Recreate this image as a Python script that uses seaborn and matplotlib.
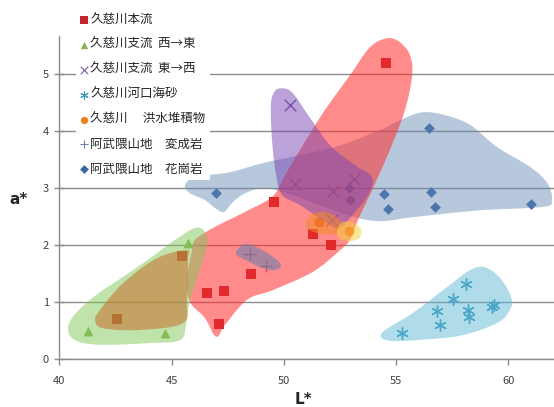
import numpy as np
import pandas as pd
import matplotlib
matplotlib.use("Agg")
import matplotlib.pyplot as plt
import seaborn as sns

# ---------------- data (L*, a*) ----------------
main_L = [54.55, 49.56, 51.31, 52.08, 48.52, 46.56, 47.32, 47.11, 42.55, 45.46]
main_a = [5.19, 2.75, 2.20, 2.00, 1.50, 1.16, 1.20, 0.61, 0.70, 1.80]

we_L = [41.26, 44.70, 45.71]
we_a = [0.50, 0.46, 2.04]

ew_L = [50.27, 50.49, 52.20, 53.12, 52.13]
ew_a = [4.45, 3.07, 2.95, 3.16, 2.44]

sand_L = [55.26, 58.11, 57.52, 56.83, 56.95, 58.21, 58.26, 59.26, 59.37]
sand_a = [0.45, 1.31, 1.05, 0.85, 0.60, 0.86, 0.74, 0.92, 0.95]

flood_L = [51.58, 52.89]
flood_a = [2.41, 2.25]

meta_L = [48.49, 49.20]
meta_a = [1.85, 1.63]

gran_L = [46.96, 52.90, 52.94, 54.46, 54.65, 56.46, 56.55, 56.73, 61.00]
gran_a = [2.92, 3.00, 2.79, 2.89, 2.63, 4.05, 2.93, 2.67, 2.72]

labels = ["久慈川本流", "久慈川支流  西→東", "久慈川支流  東→西", "久慈川河口海砂",
          "久慈川　 洪水堆積物", "阿武隈山地　変成岩", "阿武隈山地　花崗岩"]

x_ticks = [40, 45, 50, 55, 60]
y_ticks = [0, 1, 2, 3, 4, 5]

# ---------------- group outlines (L*, a*) ----------------
blob_gran_L = [45.59, 46.04, 47.60, 49.07, 50.72, 52.50, 54.28, 55.17, 56.15, 57.18, 58.29, 59.50,
               60.97, 61.73, 61.94, 61.54, 58.73, 55.75, 54.28, 52.94, 51.60, 50.27, 49.16, 48.27,
               47.69, 47.33, 46.93, 46.48, 45.82]
blob_gran_a = [3.04, 3.19, 3.28, 3.44, 3.58, 3.75, 4.02, 4.19, 4.33, 4.28, 4.11, 3.72,
               3.37, 3.09, 2.79, 2.67, 2.61, 2.49, 2.42, 2.51, 2.70, 2.89, 3.00, 2.91,
               2.74, 2.58, 2.65, 2.79, 2.91]

blob_main_L = [54.59, 55.17, 55.62, 55.71, 55.39, 54.72, 53.92, 53.30, 52.94, 52.50, 51.29, 49.51,
               48.36, 47.38, 46.98, 46.48, 45.82, 45.68, 45.91, 46.04, 46.84, 48.36, 49.51, 50.05,
               50.72, 51.74, 52.94, 53.83]
blob_main_a = [5.63, 5.56, 5.33, 4.98, 4.37, 3.67, 2.96, 2.44, 2.09, 1.91, 1.53, 1.21,
               1.04, 0.60, 0.39, 0.72, 1.00, 1.39, 1.91, 2.09, 2.30, 2.60, 2.86, 3.23,
               3.67, 4.32, 4.98, 5.47]

blob_ew_L = [49.83, 50.36, 51.17, 52.06, 53.17, 53.93, 53.75, 53.17, 52.50, 52.06, 50.72, 49.92,
             49.65, 49.47, 49.42, 49.56]
blob_ew_a = [4.75, 4.68, 4.23, 3.75, 3.40, 3.19, 2.88, 2.58, 2.30, 2.35, 2.70, 2.88,
             3.23, 3.84, 4.46, 4.68]

blob_meta_L = [47.91, 48.27, 48.85, 49.60, 49.87, 49.56, 49.02, 48.27, 47.91]
blob_meta_a = [1.91, 2.02, 1.95, 1.77, 1.63, 1.56, 1.60, 1.74, 1.82]

blob_flood_L = [50.98, 51.25, 51.83, 52.41, 52.59, 52.19, 51.52, 51.07]
blob_flood_a = [2.40, 2.54, 2.58, 2.47, 2.30, 2.19, 2.21, 2.28]

blob_yellow_L = [52.37, 52.59, 53.03, 53.43, 53.35, 52.90, 52.46]
blob_yellow_a = [2.26, 2.40, 2.40, 2.28, 2.12, 2.07, 2.12]

blob_we_L = [46.49, 46.04, 45.15, 44.04, 42.83, 41.59, 40.70, 40.38, 40.70, 41.81, 44.04, 45.37,
             45.64, 45.82, 46.26, 46.57]
blob_we_a = [2.23, 2.30, 2.09, 1.77, 1.44, 1.11, 0.79, 0.54, 0.33, 0.25, 0.28, 0.33,
             0.60, 1.04, 1.56, 2.00]

blob_brown_L = [45.68, 44.35, 42.83, 41.81, 41.59, 41.95, 43.59, 45.50, 45.68, 45.73]
blob_brown_a = [1.91, 1.77, 1.33, 0.86, 0.68, 0.54, 0.51, 0.63, 1.04, 1.74]

blob_sand_L = [54.37, 55.75, 57.26, 58.29, 58.96, 59.63, 60.12, 60.07, 59.49, 57.98, 56.51, 54.73]
blob_sand_a = [0.46, 0.81, 1.26, 1.56, 1.61, 1.42, 1.09, 0.86, 0.63, 0.42, 0.35, 0.32]


def smooth_closed(xs, ys, n=24):
    P = np.column_stack([xs, ys]).astype(float)
    N = len(P)
    t = np.linspace(0, 1, n, endpoint=False)[:, None]
    out = []
    for i in range(N):
        p0, p1, p2, p3 = P[i - 1], P[i], P[(i + 1) % N], P[(i + 2) % N]
        seg = 0.5 * ((2 * p1) + (-p0 + p2) * t + (2 * p0 - 5 * p1 + 4 * p2 - p3) * t ** 2
                     + (-p0 + 3 * p1 - 3 * p2 + p3) * t ** 3)
        out.append(seg)
    S = np.vstack(out)
    return S[:, 0], S[:, 1]


sns.set_style("white")
plt.rcParams['font.family'] = ['Noto Sans CJK JP', 'DejaVu Sans']

fig = plt.figure(figsize=(5.54, 4.07), dpi=100)
ax = fig.add_axes([59.4 / 554, 48 / 407, 1 - 59.4 / 554, 323 / 407])

series = [
    (main_L, main_a, 's', '#C0282D', 46, labels[0], 0, 26),
    (we_L, we_a, '^', '#8CB04E', 50, labels[1], 0, 28),
    (ew_L, ew_a, 'x', '#7A5C9E', 70, labels[2], 1.0, 30),
    (sand_L, sand_a, (6, 2, 0), '#3E9CC0', 70, labels[3], 1.0, 30),
    (flood_L, flood_a, 'o', '#E8821E', 50, labels[4], 0, 28),
    (meta_L, meta_a, '+', '#6C80B8', 70, labels[5], 1.0, 34),
    (gran_L, gran_a, 'D', '#3565A8', 30, labels[6], 0, 20),
]
for L, a, m, c, s, lab, lw, _ in series:
    df = pd.DataFrame({"L": L, "a": a})
    sns.scatterplot(data=df, x="L", y="a", marker=m, color=c, s=s, linewidth=lw,
                    label=lab, ax=ax, zorder=2)

blobs = [
    (blob_gran_L, blob_gran_a, (105 / 255, 138 / 255, 182 / 255), 0.47),
    (blob_main_L, blob_main_a, (1.0, 45 / 255, 45 / 255), 0.55),
    (blob_ew_L, blob_ew_a, (120 / 255, 70 / 255, 180 / 255), 0.50),
    (blob_meta_L, blob_meta_a, (100 / 255, 125 / 255, 175 / 255), 0.55),
    (blob_we_L, blob_we_a, (130 / 255, 200 / 255, 90 / 255), 0.50),
    (blob_brown_L, blob_brown_a, (200 / 255, 110 / 255, 40 / 255), 0.55),
    (blob_sand_L, blob_sand_a, (90 / 255, 180 / 255, 210 / 255), 0.48),
    (blob_flood_L, blob_flood_a, (240 / 255, 140 / 255, 40 / 255), 0.55),
    (blob_yellow_L, blob_yellow_a, (245 / 255, 210 / 255, 60 / 255), 0.55),
]
for bx, by, col, al in blobs:
    sx, sy = smooth_closed(bx, by)
    ax.fill(sx, sy, color=col, alpha=al, lw=0, zorder=3)

ax.set_xlim(40, 62.03)
ax.set_ylim(0, 5.67)
ax.set_xticks(x_ticks)
ax.set_yticks(y_ticks)
ax.set_axisbelow(True)
ax.yaxis.grid(True, color='#8C8C8C', lw=1)
ax.xaxis.grid(False)
for sp in ['top', 'right']:
    ax.spines[sp].set_visible(False)
for sp in ['left', 'bottom']:
    ax.spines[sp].set_color('#8C8C8C')
    ax.spines[sp].set_linewidth(1)
ax.tick_params(axis='x', direction='out', length=4, width=1, color='#8C8C8C',
               labelsize=8, labelcolor='#404040', pad=8, bottom=True)
ax.tick_params(axis='y', direction='inout', length=7, width=1, color='#8C8C8C',
               labelsize=8, labelcolor='#404040', pad=4, left=True)

ax.set_xlabel("L*", fontsize=11, fontweight='bold', family=['DejaVu Sans'])
ax.xaxis.set_label_coords((303 - 59.4) / 494.6, (359 - 400) / 323)
ax.xaxis.label.set_va('center')
ax.set_ylabel("a*", fontsize=11, fontweight='bold', rotation=0, family=['DejaVu Sans'])
ax.yaxis.set_label_coords((19 - 59.4) / 494.6, (359 - 200) / 323)
ax.yaxis.label.set_va('center')
ax.yaxis.label.set_ha('center')

handles, labs = ax.get_legend_handles_labels()
leg = ax.legend(handles, labs, loc='upper left',
                bbox_to_anchor=(76 / 554, 1 - 9 / 407), bbox_transform=fig.transFigure,
                fontsize=9, frameon=True, facecolor='white', edgecolor='none', framealpha=1,
                fancybox=False, borderpad=0.35, handlelength=0.6, handletextpad=0.2,
                labelspacing=0.95, borderaxespad=0)
leg.set_zorder(10)
for h, ser in zip(leg.legend_handles, series):
    h.set_sizes([ser[7]])
    if ser[6] > 0:
        h.set_linewidths([0.8])

fig.savefig("out.png", dpi=100)
